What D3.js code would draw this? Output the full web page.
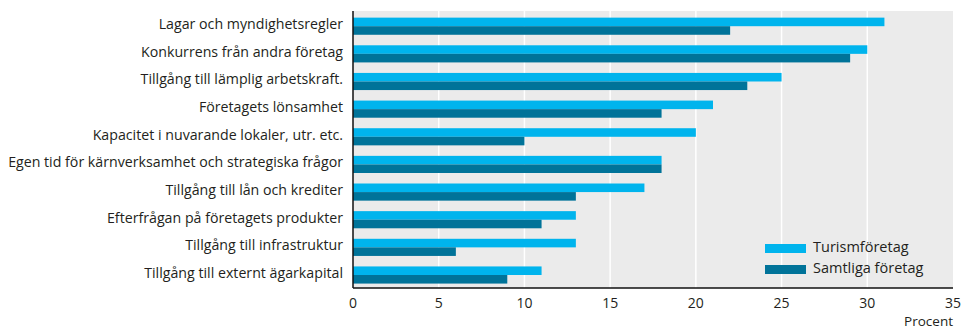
<!DOCTYPE html>
<html>
<head>
<meta charset="utf-8">
<script src="https://cdn.jsdelivr.net/npm/d3@7"></script>
<style>
  html, body { margin: 0; padding: 0; background: #fff; }
  text { font-family: "Open Sans", "Noto Sans", sans-serif; fill: #231f20; }
</style>
</head>
<body>
<svg id="chart" width="963" height="330"></svg>
<script>
// Obstacles to growth, share of firms (percent)
const categories = [
  "Lagar och myndighetsregler",
  "Konkurrens från andra företag",
  "Tillgång till lämplig arbetskraft.",
  "Företagets lönsamhet",
  "Kapacitet i nuvarande lokaler, utr. etc.",
  "Egen tid för kärnverksamhet och strategiska frågor",
  "Tillgång till lån och krediter",
  "Efterfrågan på företagets produkter",
  "Tillgång till infrastruktur",
  "Tillgång till externt ägarkapital"
];
const turism = [31, 30, 25, 21, 20, 18, 17, 13, 13, 11];
const samtliga = [22, 29, 23, 18, 10, 18, 13, 11, 6, 9];
const seriesNames = ["Turismföretag", "Samtliga företag"];
const xTicks = [0, 5, 10, 15, 20, 25, 30, 35];
const xTitle = "Procent";

const colors = ["#00b4ed", "#007399"];

const svg = d3.select("#chart");
const plotLeft = 353, plotRight = 953, plotTop = 11, plotBottom = 288;

const x = d3.scaleLinear().domain([0, 35]).range([plotLeft, plotRight]);
const y = d3.scaleBand().domain(categories).range([plotTop, plotBottom])
  .paddingInner(0.38).paddingOuter(0.2).align(0.6);
const sub = d3.scaleBand().domain(seriesNames).range([0, y.bandwidth()]);

// plot background
svg.append("rect")
  .attr("x", plotLeft).attr("y", plotTop)
  .attr("width", plotRight - plotLeft).attr("height", plotBottom - plotTop)
  .attr("fill", "#ebebeb");

// vertical grid lines
svg.append("g").selectAll("line")
  .data(xTicks.filter(d => d > 0 && d < 35))
  .join("line")
  .attr("x1", d => x(d)).attr("x2", d => x(d))
  .attr("y1", plotTop).attr("y2", plotBottom)
  .attr("stroke", "#ffffff").attr("stroke-width", 1.5);

// bars
const rows = categories.map((c, i) => ({ c, vals: [turism[i], samtliga[i]] }));
const g = svg.append("g").selectAll("g").data(rows).join("g")
  .attr("transform", d => `translate(0,${y(d.c)})`);
g.selectAll("rect")
  .data(d => d.vals.map((v, j) => ({ v, s: seriesNames[j], j })))
  .join("rect")
  .attr("x", x(0))
  .attr("y", d => sub(d.s))
  .attr("width", d => x(d.v) - x(0))
  .attr("height", sub.bandwidth())
  .attr("fill", d => colors[d.j]);

// category labels
svg.append("g").selectAll("text").data(categories).join("text")
  .attr("x", plotLeft - 10)
  .attr("y", d => y(d) + y.bandwidth() / 2 - 1)
  .attr("text-anchor", "end")
  .attr("dominant-baseline", "middle")
  .attr("font-size", 14.2)
  .text(d => d);

// axis lines
svg.append("line")
  .attr("x1", plotLeft).attr("x2", plotLeft).attr("y1", plotTop).attr("y2", plotBottom)
  .attr("stroke", "#111").attr("stroke-width", 1.5);
svg.append("line")
  .attr("x1", plotLeft).attr("x2", plotRight).attr("y1", plotBottom).attr("y2", plotBottom)
  .attr("stroke", "#111").attr("stroke-width", 1.5);

// x tick labels
svg.append("g").selectAll("text").data(xTicks).join("text")
  .attr("x", d => x(d))
  .attr("y", 308)
  .attr("text-anchor", "middle")
  .attr("font-size", 14)
  .text(d => d);

svg.append("text")
  .attr("x", plotRight).attr("y", 326)
  .attr("text-anchor", "end")
  .attr("font-size", 13.5)
  .text(xTitle);

// legend
const legend = svg.append("g");
seriesNames.forEach((name, i) => {
  const ly = 244 + i * 21;
  legend.append("rect")
    .attr("x", 765).attr("y", ly).attr("width", 41).attr("height", 9)
    .attr("fill", colors[i]);
  legend.append("text")
    .attr("x", 813).attr("y", ly + 4.5)
    .attr("dominant-baseline", "middle")
    .attr("font-size", 14.5)
    .text(name);
});
</script>
</body>
</html>
